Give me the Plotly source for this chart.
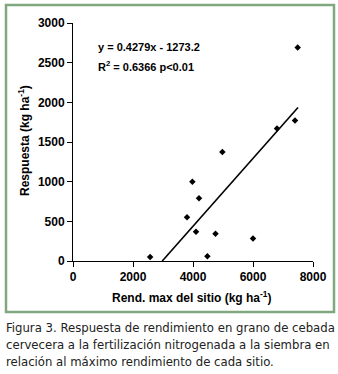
import plotly.graph_objects as go

# Site maximum yield (kg/ha) and response to N fertilization (kg/ha)
rend_max = [2570, 3800, 3980, 4100, 4200, 4480, 4750, 4980, 6000, 6800, 7400, 7490]
respuesta = [50, 550, 1000, 370, 790, 60, 345, 1375, 285, 1670, 1770, 2690]

# Fitted regression: y = 0.4279x - 1273.2
slope = 0.4279
intercept = -1273.2
fit_x = [-intercept / slope, 7500]
fit_y = [slope * x + intercept for x in fit_x]

x_ticks = [0, 2000, 4000, 6000, 8000]
y_ticks = [0, 500, 1000, 1500, 2000, 2500, 3000]

W, H = 338, 374
L, R, T, B = 73, 25, 23, 113
pw, ph = W - L - R, H - T - B


def px(xp):
    return (xp - L) / pw


def py(yp):
    return (H - B - yp) / ph


fig = go.Figure()
fig.add_trace(go.Scatter(x=fit_x, y=fit_y, mode="lines",
                         line=dict(color="black", width=1.6),
                         hoverinfo="skip", showlegend=False))
fig.add_trace(go.Scatter(x=rend_max, y=respuesta, mode="markers",
                         marker=dict(symbol="diamond", size=5, color="black"),
                         showlegend=False))

bold = dict(family="Arial, Liberation Sans, sans-serif", size=12, color="black")

fig.update_layout(
    width=W, height=H,
    margin=dict(l=L, r=R, t=T, b=B),
    paper_bgcolor="white", plot_bgcolor="white",
    font=bold,
    xaxis=dict(range=[0, 8000], tickvals=x_ticks, showgrid=False, zeroline=False,
               showline=True, linecolor="black", linewidth=1,
               ticks="outside", ticklen=5, tickcolor="black",
               tickfont=dict(bold, size=12, weight="bold")),
    yaxis=dict(range=[0, 3000], tickvals=y_ticks, showgrid=False, zeroline=False,
               showline=True, linecolor="black", linewidth=1,
               ticks="outside", ticklen=5, tickcolor="black",
               tickfont=dict(bold, size=12, weight="bold")),
    shapes=[dict(type="rect", xref="paper", yref="paper",
                 x0=px(6), x1=px(334), y0=py(5), y1=py(312),
                 line=dict(color="#7fa87f", width=2.5), layer="below")],
    annotations=[
        dict(text="<b>y = 0.4279x - 1273.2</b>", xref="paper", yref="paper",
             x=px(96), y=py(47), xanchor="left", yanchor="middle",
             showarrow=False, font=dict(bold, size=11)),
        dict(text="<b>R<sup>2</sup> = 0.6366 p&lt;0.01</b>", xref="paper", yref="paper",
             x=px(96), y=py(66), xanchor="left", yanchor="middle",
             showarrow=False, font=dict(bold, size=11)),
        dict(text="<b>Rend. max del sitio (kg ha<sup>-1</sup>)</b>", xref="paper", yref="paper",
             x=px(191), y=py(297), xanchor="center", yanchor="middle",
             showarrow=False, font=dict(bold, size=12)),
        dict(text="<b>Respuesta (kg ha<sup>-1</sup>)</b>", xref="paper", yref="paper",
             x=px(24), y=py(141), xanchor="center", yanchor="middle", textangle=-90,
             showarrow=False, font=dict(bold, size=12)),
        dict(text="Figura 3. Respuesta de rendimiento en grano de cebada<br>"
                  "cervecera a la fertilización nitrogenada a la siembra en<br>"
                  "relación al máximo rendimiento de cada sitio.",
             xref="paper", yref="paper", x=px(4), y=py(318),
             xanchor="left", yanchor="top", align="left", showarrow=False,
             font=dict(family="DejaVu Sans Condensed", size=13,
                       color="#222222")),
    ],
)

fig.write_html("out.html")
